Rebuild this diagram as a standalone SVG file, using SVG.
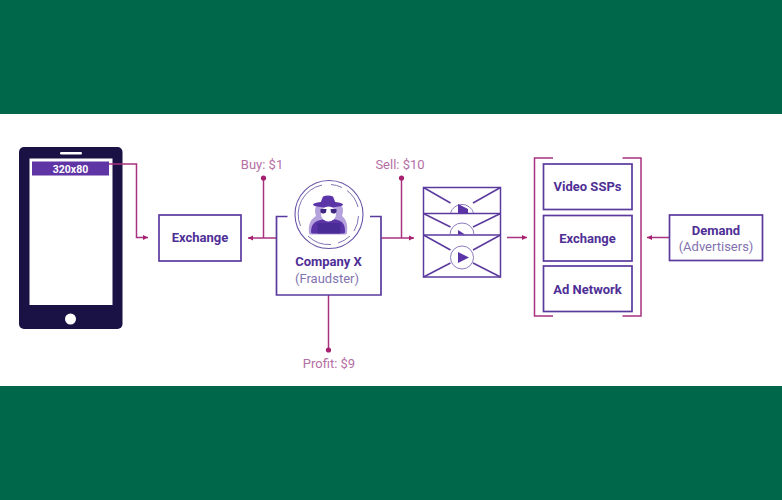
<svg xmlns="http://www.w3.org/2000/svg" width="782" height="500" viewBox="0 0 782 500">
<style>
text{font-family:Roboto,"Liberation Sans",sans-serif;text-anchor:middle}
.b{fill:none;stroke:#5b3a9e;stroke-width:1.7}
.c{fill:none;stroke:#a8327f;stroke-width:1.5}
.d{fill:#a5206f}
.t{font-size:13px;font-weight:700;fill:#4f2f96}
.s{font-size:13px;fill:#8272b0}
.m{font-size:13px;fill:#b56fa4}
.e{fill:none;stroke:#5b3a9e;stroke-width:1.5}
</style>
<defs>
<marker id="a" markerUnits="userSpaceOnUse" markerWidth="6" markerHeight="6" refX="5" refY="3" orient="auto-start-reverse"><path d="M0 .5L5 3L0 5.500Z" fill="#a5206f"/></marker>
</defs>
<rect width="782" height="500" fill="#00674a"/>
<rect y="114" width="782" height="272" fill="#fff"/>
<g id="phone">
<rect x="19" y="147" width="103.500" height="182" rx="5" fill="#1a1145"/>
<rect x="29.500" y="158.500" width="83" height="146.500" fill="#fff"/>
<rect x="60" y="152" width="22" height="2.500" rx="1.200" fill="#fff"/>
<circle cx="70.500" cy="319" r="5.500" fill="#fff"/>
<rect x="32" y="161.500" width="77" height="14" fill="#5f35a5"/>
<text x="70.500" y="173" style="font-size:10.500px;font-weight:700;fill:#fff">320x80</text>
</g>
<g id="connectors">
<path class="c" d="M109 164H136.500V237.500H148" marker-end="url(#a)"/>
<path class="c" d="M276 238H248" marker-end="url(#a)"/>
<path class="c" d="M263.500 178V238"/><circle class="d" cx="263.500" cy="178" r="2.600"/>
<path class="c" d="M381 238H414" marker-end="url(#a)"/>
<path class="c" d="M401.500 178V238"/><circle class="d" cx="401.500" cy="178" r="2.600"/>
<path class="c" d="M328.500 295V350"/><circle class="d" cx="328.500" cy="350" r="2.600"/>
<path class="c" d="M507 237.500H527" marker-end="url(#a)"/>
<path class="c" d="M669 237.500H647" marker-end="url(#a)"/>
</g>
<g id="exchange-left">
<rect class="b" x="159" y="215" width="82" height="46"/>
<text class="t" x="200" y="242">Exchange</text>
</g>
<g id="company-x">
<path class="b" d="M287.500 216.500H276.500V295H381V216.500H370"/>
<circle cx="329" cy="214.500" r="34" fill="none" stroke="#6a55a8" stroke-width="1.100"/>
<g fill="none" stroke="#8274b5" stroke-width="1">
<path d="M300.500 226A30 30 0 0 1 322 185M331 184.500A30 30 0 0 1 342 187.500M347 190.500A30 30 0 0 1 358 207M358.500 216A30 30 0 0 1 354 231M350 236A30 30 0 0 1 338 243M331 244.500A30 30 0 0 1 308 236"/>
</g>
<path d="M309 233C308 224 311 219 316 216C314 210 315 206 319 204H339C343 206 344 210 342 216C346 219 348 224 347 233C347 234 346 234.500 344 234.500H312C310 234.500 309 234 309 233Z" fill="#b5a2dc"/>
<path d="M311 232C311 224 315 219 329 219C343 219 345 224 345 232C345 233 344 233.500 343 233.500H313C312 233.500 311 233 311 232Z" fill="#5b35a8"/>
<ellipse cx="328" cy="204.500" rx="15" ry="3" fill="#5b35a8"/>
<path d="M320 204L323 196.500C326 195 330 195 333 196.500L336 204Z" fill="#5b35a8"/>
<circle cx="328.500" cy="214" r="7.500" fill="#fff"/>
<path d="M320.500 209H326.500L326 212.500C324 214 322 214 320.500 212ZM330.500 209H336.500V212C335 214 333 214 331 212.500Z" fill="#3d2580"/>
<rect x="317.500" y="223" width="23" height="10.500" fill="#4a2c96"/>
<text class="t" x="328.500" y="266">Company X</text>
<text class="s" x="327" y="283">(Fraudster)</text>
</g>
<g id="videos">
<rect class="e" x="423.500" y="187.500" width="77" height="89.500"/>
<path class="e" d="M423.500 213.500H500.500M423.500 235H500.500"/>
<path class="e" d="M423.500 187.500L450.500 203M500.500 187.500L473 203M423.500 213.500L450.500 227M500.500 213.500L473 227M423.500 235L450.500 250M500.500 235L473 250M423.500 277L450.500 263M500.500 277L473 263"/>
<path d="M450.500 213A12 12 0 0 1 473.500 213M450 234.500A12 11.500 0 0 1 474 234.500" fill="none" stroke="#8d7bbd" stroke-width="1"/>
<circle cx="462" cy="257.500" r="11.500" fill="#fff" stroke="#8d7bbd" stroke-width="1"/>
<path d="M458 252V263L469 257.500Z" fill="#5b35a8"/>
<path d="M458 204V213H468V209Z" fill="#5b35a8"/>
<path d="M458 230V234.500H465Z" fill="#5b35a8"/>
</g>
<g id="partners">
<path class="c" d="M553 158H534.500V316H553M622.500 158H641V316H622.500"/>
</g>
<g id="video-ssps">
<rect class="b" x="543.500" y="164" width="88.500" height="45.500"/>
<text class="t" x="587.500" y="191">Video SSPs</text>
</g>
<g id="exchange-right">
<rect class="b" x="543.500" y="215.500" width="88.500" height="45.500"/>
<text class="t" x="587.500" y="242.500">Exchange</text>
</g>
<g id="ad-network">
<rect class="b" x="543.500" y="266" width="88.500" height="45.500"/>
<text class="t" x="587.500" y="294">Ad Network</text>
</g>
<g id="demand">
<rect class="b" x="669.500" y="215" width="93" height="45.500"/>
<text class="t" x="716" y="235">Demand</text>
<text class="s" x="716" y="251">(Advertisers)</text>
</g>
<text class="m" x="262" y="168.500">Buy: $1</text>
<text class="m" x="400" y="168.500">Sell: $10</text>
<text class="m" x="329" y="368">Profit: $9</text>
</svg>
